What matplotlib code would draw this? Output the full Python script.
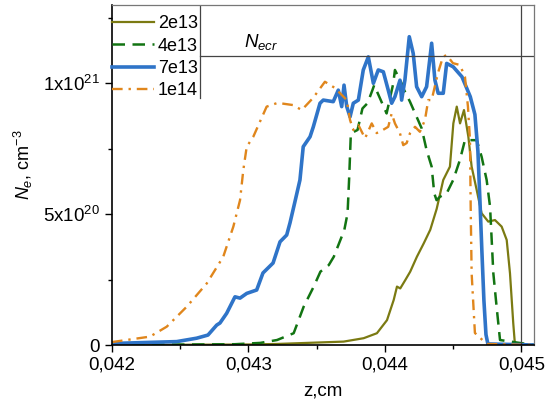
import matplotlib
matplotlib.use("Agg")
import matplotlib.pyplot as plt
from matplotlib.ticker import FixedLocator, MultipleLocator

plt.rcParams['font.family'] = ['Liberation Sans', 'DejaVu Sans']
plt.rcParams['mathtext.fontset'] = 'custom'
plt.rcParams['mathtext.rm'] = 'Liberation Sans'
plt.rcParams['mathtext.it'] = 'Liberation Sans:italic'

# ---- data (z in cm, Ne in 1e20 cm^-3) ----
z_2e13 = [0.0420, 0.0430, 0.043209, 0.043697, 0.043844, 0.043941, 0.044015, 0.044064,
          0.044088, 0.044112, 0.044149, 0.044185, 0.044234, 0.044284, 0.044332, 0.044379,
          0.044427, 0.044476, 0.044501, 0.044526, 0.04455, 0.044579, 0.044611, 0.044635,
          0.044672, 0.044708, 0.044757, 0.044806, 0.044855, 0.044892, 0.044916, 0.04494,
          0.044952, 0.04509]
ne_2e13 = [0.0, 0.02, 0.04, 0.13, 0.26, 0.45, 0.95, 1.72,
           2.23, 2.16, 2.48, 2.80, 3.37, 3.88, 4.40, 5.20,
           6.30, 6.81, 8.46, 9.10, 8.46, 8.97, 7.95, 6.81,
           5.92, 5.03, 4.71, 4.77, 4.52, 4.01, 2.74, 0.83,
           0.04, 0.0]

z_4e13 = [0.0420, 0.04290, 0.043086, 0.043209, 0.043331, 0.043404, 0.043478, 0.043527,
          0.043588, 0.043625, 0.043702, 0.043726, 0.043738, 0.043750, 0.043799, 0.043835,
          0.043872, 0.043908, 0.043921, 0.044012, 0.044061, 0.044073, 0.044122, 0.044134,
          0.044183, 0.044232, 0.044269, 0.044305, 0.044342, 0.044361, 0.044378, 0.044403,
          0.044452, 0.044500, 0.044549, 0.044586, 0.044623, 0.044672, 0.044708, 0.044745,
          0.044770, 0.044782, 0.044794, 0.044818, 0.044843, 0.04509]
ne_4e13 = [0.0, 0.03, 0.08, 0.19, 0.45, 1.46, 2.23, 2.80,
           3.05, 3.37, 4.39, 5.03, 6.42, 8.08, 8.21, 9.03,
           9.23, 9.73, 9.92, 8.84, 9.99, 10.50, 9.99, 9.80,
           9.29, 8.71, 8.27, 7.44, 6.81, 5.79, 5.53, 5.66,
           5.79, 6.30, 7.06, 7.82, 7.82, 7.82, 7.19, 6.30,
           5.28, 4.01, 2.74, 1.46, 0.19, 0.0]

z_7e13 = [0.0420, 0.04201, 0.042474, 0.04262, 0.042703, 0.042767, 0.042791, 0.04284,
          0.042901, 0.042938, 0.042987, 0.04306, 0.043106, 0.04318, 0.043231, 0.04328,
          0.043304, 0.043343, 0.043377, 0.043401, 0.043451, 0.043475, 0.043524, 0.043548,
          0.043621, 0.043658, 0.043683, 0.0437, 0.04372, 0.043744, 0.043768, 0.043805,
          0.043841, 0.043878, 0.043915, 0.043951, 0.043988, 0.044024, 0.044049, 0.044073,
          0.04411, 0.044122, 0.044146, 0.044178, 0.044207, 0.044232, 0.044269, 0.044305,
          0.044342, 0.044366, 0.04439, 0.044427, 0.044452, 0.0445, 0.044564, 0.044625,
          0.044659, 0.044681, 0.044696, 0.04471, 0.044725, 0.04474, 0.044754, 0.04509]
ne_7e13 = [0.05, 0.06, 0.13, 0.26, 0.38, 0.76, 0.84, 1.21,
           1.84, 1.79, 1.97, 2.10, 2.75, 3.13, 3.94, 4.20,
           4.66, 5.53, 6.30, 7.57, 7.95, 8.33, 9.23, 9.35,
           9.29, 9.73, 9.10, 9.92, 9.10, 8.71, 9.23, 9.35,
           10.50, 11.00, 9.99, 10.50, 10.43, 9.73, 9.23, 9.48,
           10.11, 9.35, 10.11, 11.77, 11.13, 9.86, 9.48, 9.86,
           11.52, 10.11, 9.61, 9.61, 10.75, 10.62, 10.24, 9.48,
           8.80, 7.40, 5.50, 3.60, 1.70, 0.40, 0.04, 0.0]

z_1e14 = [0.0420, 0.04201, 0.042278, 0.042401, 0.042547, 0.042694, 0.042815, 0.042889,
          0.042938, 0.042962, 0.042987, 0.043035, 0.043133, 0.043206, 0.043231, 0.043326,
          0.04339, 0.043473, 0.04356, 0.043634, 0.04372, 0.043744, 0.043768, 0.043805,
          0.043854, 0.043903, 0.043939, 0.043985, 0.044024, 0.044049, 0.044073, 0.044110,
          0.044134, 0.044159, 0.044183, 0.044220, 0.044256, 0.044293, 0.044317, 0.044342,
          0.044388, 0.044425, 0.044452, 0.044498, 0.044549, 0.044586, 0.044608, 0.044623,
          0.044628, 0.044635, 0.044659, 0.044745, 0.04509]
ne_1e14 = [0.1, 0.12, 0.32, 0.70, 1.46, 2.35, 3.37, 4.52,
           5.53, 6.68, 7.57, 7.95, 9.10, 9.23, 9.23, 9.16,
           8.97, 9.43, 10.05, 9.81, 9.35, 8.59, 8.21, 8.40,
           7.89, 8.46, 8.09, 8.21, 8.33, 8.84, 8.46, 8.08,
           7.63, 7.71, 8.08, 8.33, 8.14, 8.59, 9.35, 9.35,
           10.38, 11.00, 11.07, 10.76, 10.69, 10.24, 9.10, 7.82,
           5.28, 2.74, 0.46, 0.04, 0.0]

labels = ["2e13", "4e13", "7e13", "1e14"]
n_ecr = 11.05
z_wall = 0.045

xticks = [0.042, 0.043, 0.044, 0.045]
xtick_labels = ["0,042", "0,043", "0,044", "0,045"]
yticks = [0.0, 5.0, 10.0]
ytick_labels = ["0", r"5x10$^{20}$", r"1x10$^{21}$"]

fig = plt.figure(figsize=(5.54, 4.03), dpi=100)
ax = fig.add_axes([0.2022, 0.1439, 0.7617, 0.8437])

ax.plot(z_2e13, ne_2e13, color='#7b7a12', lw=1.6, label=labels[0])
ax.plot(z_4e13, ne_4e13, color='#127412', lw=1.8, dashes=(5, 3), label=labels[1])
ax.plot(z_7e13, ne_7e13, color='#2f74c8', lw=2.6, label=labels[2])
ax.plot(z_1e14, ne_1e14, color='#e0861c', lw=1.7, dashes=(4.5, 2.5, 1, 2.5), label=labels[3])

# critical density line and the wall
lx = 0.2085
ax.axhline(n_ecr, xmin=lx, xmax=1, color='#444444', lw=0.9)
ax.axvline(z_wall, color='#444444', lw=0.9)
ax.plot([lx, lx], [0.726, 1.0], transform=ax.transAxes, color='#444444', lw=0.9)
ax.text(0.04297, n_ecr + 0.15, r"$N_{ecr}$", fontsize=13.5, ha='left', va='bottom')

ax.set_xlim(0.042, 0.045092)
ax.set_ylim(0, 12.98)
ax.xaxis.set_major_locator(FixedLocator(xticks))
ax.set_xticklabels(xtick_labels)
ax.xaxis.set_minor_locator(MultipleLocator(0.0005))
ax.yaxis.set_major_locator(FixedLocator(yticks))
ax.set_yticklabels(ytick_labels)
ax.yaxis.set_minor_locator(MultipleLocator(2.5))
ax.tick_params(which='both', direction='out', labelsize=13.5, width=1.0)
ax.tick_params(which='major', length=5)
ax.tick_params(which='minor', length=3)

for s in ['top', 'right']:
    ax.spines[s].set_color('#777777')
    ax.spines[s].set_linewidth(0.9)
for s in ['left', 'bottom']:
    ax.spines[s].set_linewidth(1.2)

ax.set_xlabel("z,cm", fontsize=13.5, labelpad=6)
ax.set_ylabel(r"$N_e$, cm$^{-3}$", fontsize=13)
ax.yaxis.set_label_coords(-0.183, 0.53)

leg = ax.legend(loc='upper left', bbox_to_anchor=(0.0, 0.97), frameon=False,
                borderaxespad=0.0, borderpad=0.0, handlelength=2.35, handletextpad=0.2,
                labelspacing=0.3, fontsize=13)

fig.savefig("out.png", dpi=100)
